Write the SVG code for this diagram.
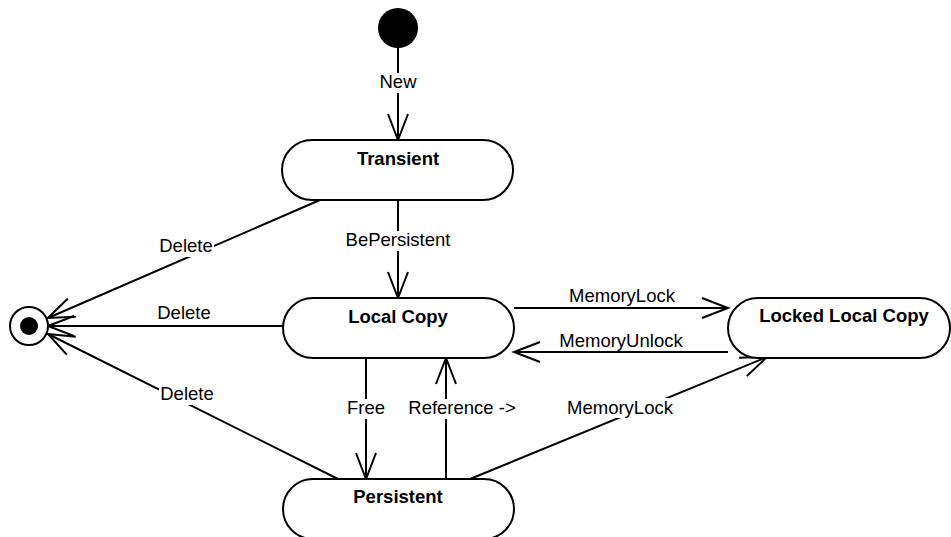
<svg xmlns="http://www.w3.org/2000/svg" width="951" height="537" viewBox="0 0 951 537">
<style>
.state{fill:#fff;stroke:#000;stroke-width:2}
.name{font-family:"Liberation Sans",Arial,sans-serif;font-weight:bold;font-size:18.5px;text-anchor:middle;fill:#000}
.edge{fill:none;stroke:#000;stroke-width:2;marker-end:url(#open)}
.bg{fill:#fff;stroke:none}
.lbl{font-family:"Liberation Sans",Arial,sans-serif;font-size:18.5px;text-anchor:middle;fill:#000}
</style>
<defs>
<marker id="open" markerUnits="userSpaceOnUse" markerWidth="32" markerHeight="24" refX="28" refY="11" orient="auto" overflow="visible">
<path d="M2,1 L28,11 L2,21" fill="none" stroke="#000" stroke-width="2"/>
</marker>
</defs>
<rect width="951" height="537" fill="#fff"/>
<g id="connectors">
<line class="edge" x1="398" y1="48" x2="398" y2="140"/>
<line class="edge" x1="320" y1="200" x2="48" y2="318"/>
<line class="edge" x1="398" y1="200" x2="398" y2="298"/>
<line class="edge" x1="283" y1="326" x2="48" y2="326"/>
<line class="edge" x1="338" y1="479" x2="48" y2="334"/>
<line class="edge" x1="366" y1="358" x2="366" y2="479"/>
<line class="edge" x1="446" y1="479" x2="446" y2="358"/>
<line class="edge" x1="514" y1="308" x2="728" y2="308"/>
<line class="edge" x1="728" y1="352" x2="514" y2="352"/>
<line class="edge" x1="470" y1="479" x2="767" y2="357"/>
<rect class="bg" x="378" y="73" width="40" height="20"/>
<rect class="bg" x="158" y="237" width="56" height="20"/>
<rect class="bg" x="345" y="231" width="107" height="20"/>
<rect class="bg" x="159" y="385" width="56" height="20"/>
<rect class="bg" x="346" y="399" width="40" height="20"/>
<rect class="bg" x="407" y="399" width="110" height="20"/>
<rect class="bg" x="566" y="398" width="108" height="20"/>
<text class="lbl" x="398" y="88">New</text>
<text class="lbl" x="186" y="252">Delete</text>
<text class="lbl" x="398" y="246">BePersistent</text>
<text class="lbl" x="184" y="319">Delete</text>
<text class="lbl" x="187" y="400">Delete</text>
<text class="lbl" x="366" y="414">Free</text>
<text class="lbl" x="462" y="414">Reference -&gt;</text>
<text class="lbl" x="622" y="302">MemoryLock</text>
<text class="lbl" x="621" y="347">MemoryUnlock</text>
<text class="lbl" x="620" y="414">MemoryLock</text>
</g>
<g id="initial">
<circle cx="398" cy="28" r="20" fill="#000"/>
</g>
<g id="final">
<circle cx="29" cy="326" r="19" fill="#fff" stroke="#000" stroke-width="2"/>
<circle cx="29" cy="326" r="9" fill="#000"/>
</g>
<g id="transient">
<rect class="state" x="282" y="140" width="231" height="60" rx="30" ry="30"/>
<text class="name" x="398" y="165">Transient</text>
</g>
<g id="localcopy">
<rect class="state" x="283" y="298" width="231" height="60" rx="30" ry="30"/>
<text class="name" x="398" y="323">Local Copy</text>
</g>
<g id="persistent">
<rect class="state" x="283" y="479" width="231" height="60" rx="30" ry="30"/>
<text class="name" x="398" y="503">Persistent</text>
</g>
<g id="lockedlocalcopy">
<rect class="state" x="728" y="298" width="222" height="60" rx="30" ry="30"/>
<text class="name" x="844" y="322">Locked Local Copy</text>
</g>
</svg>
